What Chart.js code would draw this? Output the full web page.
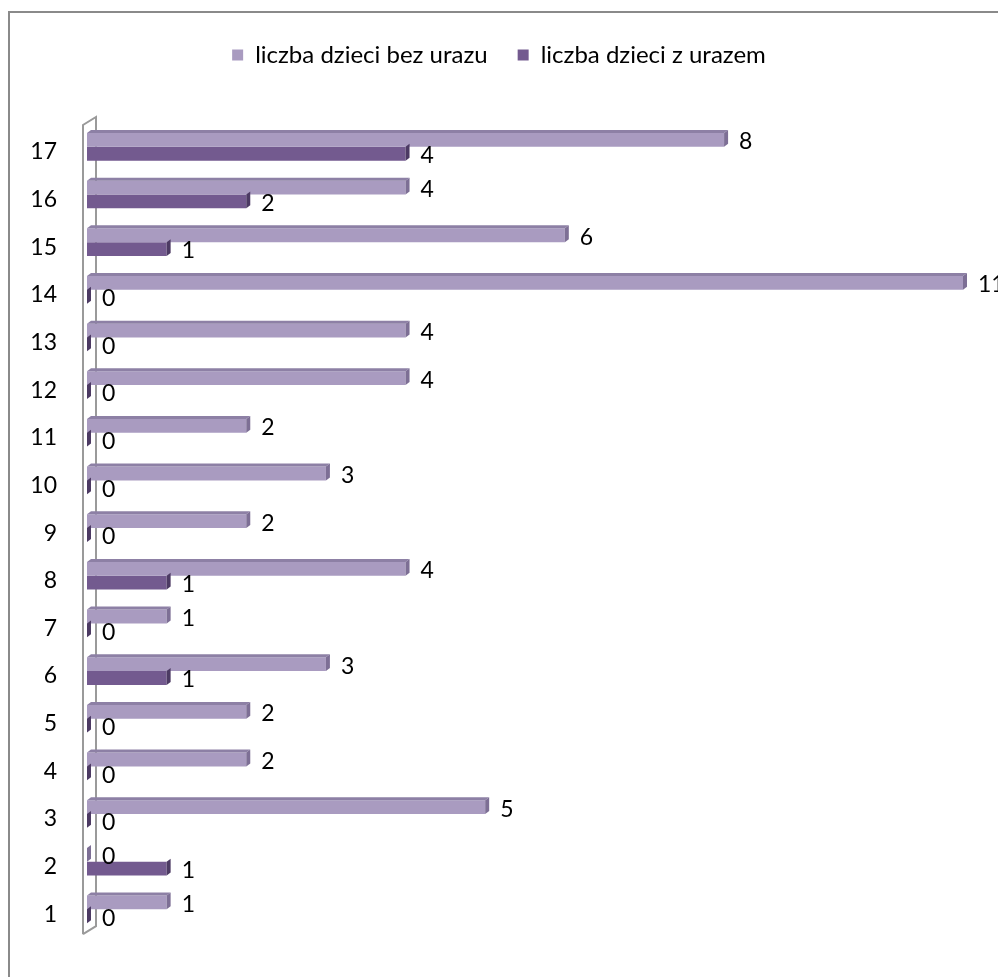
<!DOCTYPE html>
<html>
<head>
<meta charset="utf-8">
<script src="https://cdn.jsdelivr.net/npm/chart.js@4.4.1/dist/chart.umd.min.js"></script>
<style>
  html, body { margin: 0; padding: 0; background: #ffffff; }
  #wrap { position: relative; width: 998px; height: 977px; overflow: hidden; background: #ffffff; }
  #frame { position: absolute; left: 8px; top: 11px; width: 1100px; height: 1100px; border: 2px solid #8a8a8a; box-sizing: border-box; }
  #c { position: absolute; left: 0; top: 0; }
</style>
</head>
<body>
<div id="wrap">
  <div id="frame"></div>
  <canvas id="c" width="998" height="977"></canvas>
</div>
<script>
const categories = ['1','2','3','4','5','6','7','8','9','10','11','12','13','14','15','16','17'];
const seriesNames = ['liczba dzieci bez urazu', 'liczba dzieci z urazem'];
const bezUrazu = [1, 0, 5, 2, 2, 3, 1, 4, 2, 3, 2, 4, 4, 11, 6, 4, 8];
const zUrazem  = [0, 1, 0, 0, 0, 1, 0, 1, 0, 0, 0, 0, 0, 0, 1, 2, 4];

const FONT = 'Lato, "Open Sans", sans-serif';
const FS = 23;
const LFS = 24;
const DEPTH = 4;
const faceColors = [
  { top: '#8d80a5', end: '#7d6f95' },
  { top: '#5b4677', end: '#4c3a63' }
];

const wallPlugin = {
  id: 'wall',
  beforeDatasetsDraw(chart) {
    const a = chart.chartArea;
    const ctx = chart.ctx;
    const l = a.left - 4, r = a.left + 9;
    ctx.save();
    ctx.strokeStyle = '#9a9a9a';
    ctx.lineWidth = 2;
    ctx.beginPath();
    ctx.moveTo(l, a.bottom + 1);
    ctx.lineTo(l, a.top + 2);
    ctx.lineTo(r, a.top - 6);
    ctx.lineTo(r, a.bottom - 7);
    ctx.lineTo(l, a.bottom + 1);
    ctx.stroke();
    ctx.restore();
  }
};

const bar3dPlugin = {
  id: 'bar3d',
  afterDatasetsDraw(chart) {
    const ctx = chart.ctx;
    ctx.save();
    for (let di = chart.data.datasets.length - 1; di >= 0; di--) {
      const meta = chart.getDatasetMeta(di);
      meta.data.forEach((el) => {
        const x0 = Math.min(el.base, el.x), x1 = Math.max(el.base, el.x);
        const top = el.y - el.height / 2, bot = el.y + el.height / 2;
        if (di === 0) {
          ctx.fillStyle = faceColors[di].top;
          ctx.beginPath();
          ctx.moveTo(x0, top);
          ctx.lineTo(x0 + DEPTH, top - DEPTH + 1);
          ctx.lineTo(x1 + DEPTH, top - DEPTH + 1);
          ctx.lineTo(x1, top);
          ctx.closePath();
          ctx.fill();
        }
        ctx.fillStyle = faceColors[di].end;
        ctx.beginPath();
        ctx.moveTo(x1, top);
        ctx.lineTo(x1 + DEPTH, top - DEPTH + 1);
        ctx.lineTo(x1 + DEPTH, bot - DEPTH + 1);
        ctx.lineTo(x1, bot);
        ctx.closePath();
        ctx.fill();
      });
    }
    ctx.restore();
  }
};

const labelPlugin = {
  id: 'valueLabels',
  afterDatasetsDraw(chart) {
    const ctx = chart.ctx;
    ctx.save();
    ctx.font = FS + 'px ' + FONT;
    ctx.fillStyle = '#000000';
    ctx.textAlign = 'left';
    ctx.textBaseline = 'middle';
    chart.data.datasets.forEach((ds, di) => {
      const meta = chart.getDatasetMeta(di);
      meta.data.forEach((el, i) => {
        ctx.fillText(String(ds.data[i]), Math.max(el.x, el.base) + DEPTH + 11, el.y + 2);
      });
    });
    ctx.restore();
  }
};

new Chart(document.getElementById('c'), {
  type: 'bar',
  data: {
    labels: categories,
    datasets: [
      { label: seriesNames[0], data: bezUrazu, backgroundColor: '#a99bc0', borderWidth: 0 },
      { label: seriesNames[1], data: zUrazem, backgroundColor: '#735a8f', borderWidth: 0 }
    ]
  },
  options: {
    indexAxis: 'y',
    responsive: false,
    animation: false,
    events: [],
    layout: { padding: { top: 13, right: 0, bottom: 30, left: 0 } },
    datasets: { bar: { categoryPercentage: 0.58, barPercentage: 1.0 } },
    scales: {
      x: {
        position: 'top',
        min: 0, max: 11,
        grid: { display: false },
        border: { display: false },
        ticks: { display: false },
        afterFit(s) { s.height = 46; }
      },
      y: {
        reverse: true,
        grid: { display: false, drawTicks: false },
        border: { display: false },
        ticks: { color: '#000000', font: { family: FONT, size: FS }, padding: 30, labelOffset: 5 },
        afterFit(s) { s.width = 87; }
      },
      yRight: {
        type: 'linear',
        position: 'right',
        grid: { display: false },
        border: { display: false },
        ticks: { display: false },
        afterFit(s) { s.width = 35; }
      }
    },
    plugins: {
      legend: {
        position: 'top',
        labels: { color: '#000000', font: { family: FONT, size: LFS }, boxWidth: 11, boxHeight: 11, padding: 30 }
      },
      tooltip: { enabled: false }
    }
  },
  plugins: [wallPlugin, bar3dPlugin, labelPlugin]
});
</script>
</body>
</html>
